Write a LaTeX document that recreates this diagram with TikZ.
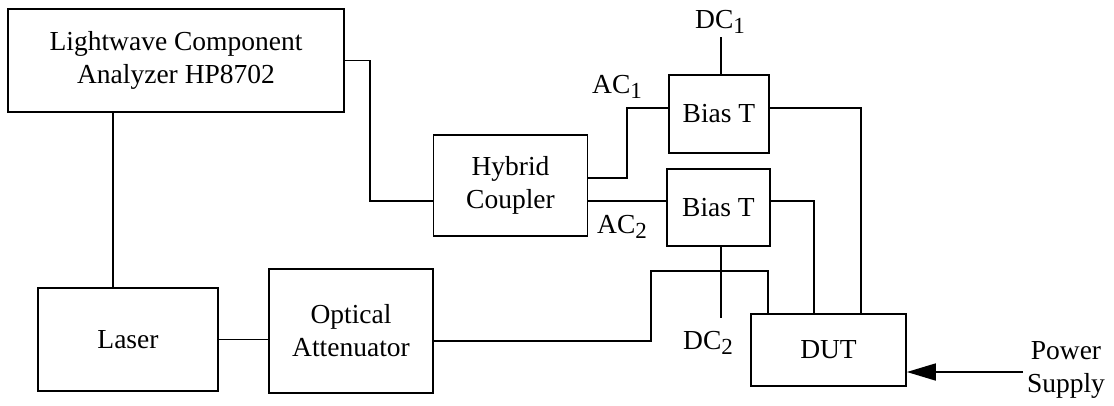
\documentclass[tikz,border=0pt]{standalone}
\usepackage{fontspec}
\setmainfont{Liberation Serif}
\usetikzlibrary{arrows.meta}
\newcommand{\mysub}[1]{\raisebox{-5pt}{\fontsize{23}{23}\selectfont #1}}
\begin{document}
\begin{tikzpicture}[x=1pt,y=-1pt,
  every node/.style={font=\fontsize{27.5}{33}\selectfont},
  box/.style={draw, line width=1.7pt, inner sep=0pt, align=center},
  wire/.style={line width=1.7pt},
  lbl/.style={inner sep=0pt}]
\useasboundingbox (0,0) rectangle (1114,405);
\node[box, minimum width=336pt, minimum height=103pt] (lca) at (176,60.5) {Lightwave Component\\Analyzer HP8702};
\node[box, minimum width=180pt, minimum height=103pt] (laser) at (128,339.5) {Laser};
\node[box, minimum width=164pt, minimum height=124pt] (oa) at (351,331) {Optical\\Attenuator};
\node[box, minimum width=154pt, minimum height=101pt] (hyb) at (510.5,185.5) {Hybrid\\Coupler};
\node[box, minimum width=100pt, minimum height=78pt] (bt1) at (719,114) {Bias T};
\node[box, minimum width=103pt, minimum height=77pt] (bt2) at (718.5,207.5) {Bias T};
\node[box, minimum width=155pt, minimum height=72pt] (dut) at (828.5,350) {DUT};
\node[lbl] (dc1) at (720,22) {DC\mysub{1}};
\node[lbl] (dc2) at (708,343) {DC\mysub{2}};
\node[lbl] (ac1) at (617,87) {AC\mysub{1}};
\node[lbl] (ac2) at (622,227) {AC\mysub{2}};
\node[lbl, align=center] (ps) at (1066,370) {Power\\Supply};
% connectors
\draw[wire] (lca.south -| 113,0) -- (laser.north -| 113,0);
\draw[wire] (laser.east) -- (oa.west |- laser.east);
\draw[wire] (lca.east) -| (370,201) -- (hyb.west |- 0,201);
\draw[wire] (hyb.east |- 0,178) -| (627,108) -- (bt1.west |- 0,108);
\draw[wire] (hyb.east |- 0,201) -- (bt2.west |- 0,201);
\draw[wire] (bt1.east |- 0,108) -| (dut.north -| 861,0);
\draw[wire] (bt2.east |- 0,201) -| (dut.north -| 814,0);
\draw[wire] (oa.east |- 0,341) -| (651,271) -| (dut.north -| 768,0);
\draw[wire] (bt1.north -| 721,0) -- (721,37);
\draw[wire] (bt2.south -| 721,0) -- (721,318);
\coordinate (psin) at (1023,372);
\draw[wire, -{Triangle[length=29pt,width=17pt]}] (psin) -- (dut.east |- psin);
\end{tikzpicture}
\end{document}
